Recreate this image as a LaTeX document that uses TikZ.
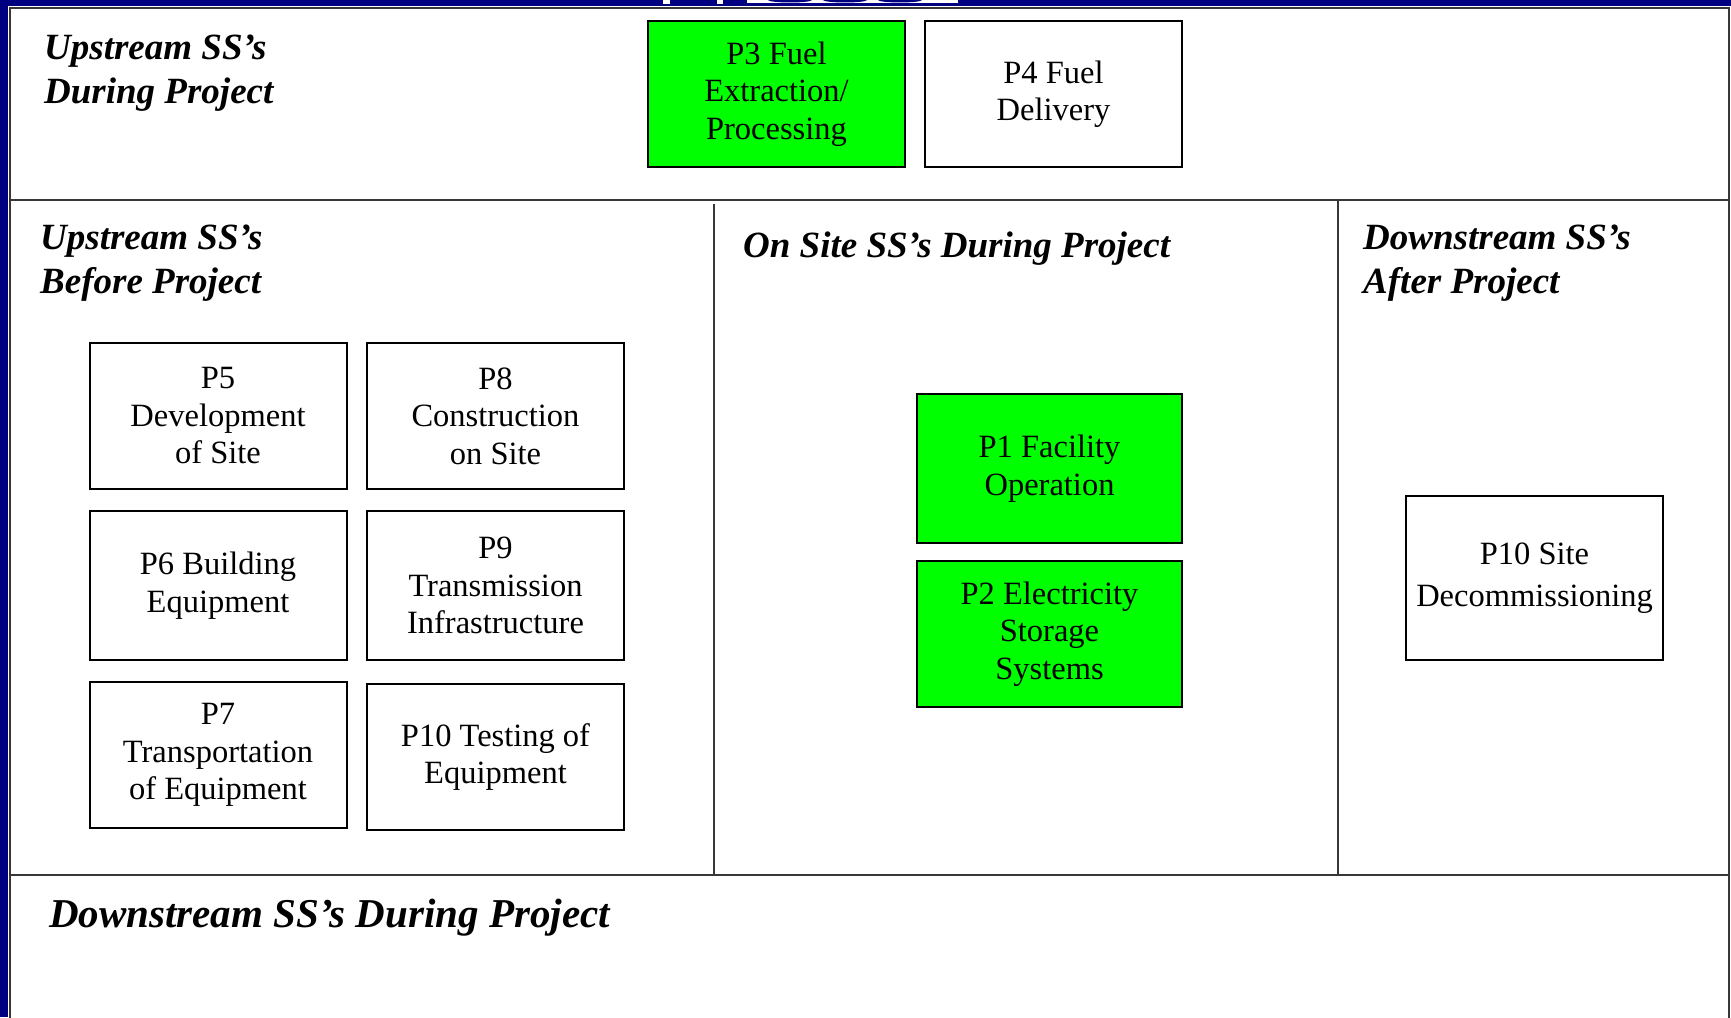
\documentclass[tikz,border=0pt]{standalone}
\usepackage{fontspec}
\setmainfont{Liberation Serif}
\usepackage{xcolor}
\definecolor{procgreen}{RGB}{0,255,0}
\definecolor{slidenavy}{RGB}{0,0,128}
\definecolor{framegray}{RGB}{55,55,55}
\newcommand{\boxfont}{\fontsize{32.5}{37.5}\selectfont}
\newcommand{\zonefont}{\fontsize{37}{44}\selectfont\bfseries\itshape}

\begin{document}
\begin{tikzpicture}[line cap=rect,line join=miter,x=1pt,y=-1pt,
    stage/.style={draw=black,line width=2pt,align=center,inner sep=0pt,
      minimum width=257pt,minimum height=146pt,font=\boxfont},
    hot/.style={stage,fill=procgreen},
    zone/.style={anchor=base west,align=left,inner sep=0pt,font=\zonefont}]
    \useasboundingbox (0,0) rectangle (1731,1017);
    \fill[white] (0,0) rectangle (1731,1017);
    % slide edge
    \fill[slidenavy] (0,0) rectangle (8,1017);
    \fill[slidenavy] (0,0) rectangle (1731,6);
    \fill[white] (663,0) rectangle (670,4);
    \fill[white] (717,0) rectangle (723,4);
    \fill[white] (747,0) rectangle (958,3);
    \fill[slidenavy] (790,0) ellipse (22 and 2.5);
    \fill[slidenavy] (845,0) ellipse (22 and 2.5);
    \fill[slidenavy] (900,0) ellipse (22 and 2.5);
    % frame
    \draw[framegray,line width=2pt] (10,1017) -- (10,8) -- (1729,8) -- (1729,1017);
    \draw[framegray,line width=2pt] (10,200) -- (1729,200);
    \draw[framegray,line width=2pt] (10,875) -- (1729,875);
    \draw[framegray,line width=2pt] (714,205) -- (714,875);
    \draw[framegray,line width=2pt] (1338,200) -- (1338,875);
    % zone titles (base = last line)
    \node[zone] (upDuring) at (44,103) {Upstream SS's\\During Project};
    \node[zone] (upBefore) at (40,293) {Upstream SS's\\Before Project};
    \node[zone] (onSite) at (743,257) {On Site SS's During Project};
    \node[zone] (downAfter) at (1363,293) {Downstream SS's\\After Project};
    \node[zone,font=\fontsize{41}{48}\selectfont\bfseries\itshape] (downDuring) at (49,927) {Downstream SS's During Project};
    % stages
    \node[hot] (p3) at (776.5,94) {P3 Fuel\\Extraction/\\Processing};
    \node[stage] (p4) at (1053.5,94) {P4 Fuel\\Delivery};
    \node[stage] (p5) at (218,416) {P5\\Development\\of Site};
    \node[stage] (p8) at (495.5,416) {P8\\Construction\\on Site};
    \node[stage,minimum height=149pt] (p6) at (218,585.5) {P6 Building\\Equipment};
    \node[stage,minimum height=149pt] (p9) at (495.5,585.5) {P9\\Transmission\\Infrastructure};
    \node[stage] (p7) at (218,755) {P7\\Transportation\\of Equipment};
    \node[stage] (p10t) at (495.5,757) {P10 Testing of\\Equipment};
    \node[hot,minimum width=265pt,minimum height=149pt] (p1) at (1049.5,468.5) {P1 Facility\\Operation};
    \node[hot,minimum width=265pt] (p2) at (1049.5,634) {P2 Electricity\\Storage\\Systems};
    \node[stage,minimum height=164pt] (p10s) at (1534.5,578) {P10 Site\\[5pt]Decommissioning};
\end{tikzpicture}
\end{document}
